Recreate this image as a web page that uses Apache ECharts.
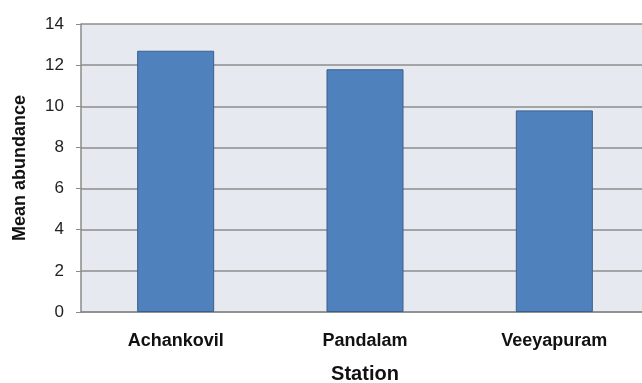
<!DOCTYPE html>
<html>
<head>
<meta charset="UTF-8">
<title>Mean abundance by station</title>
<script src="https://cdn.jsdelivr.net/npm/echarts@6/dist/echarts.min.js"></script>
<style>
  html, body { margin: 0; padding: 0; background: #fff; overflow: hidden; }
  #main { width: 642px; height: 383px; }
</style>
</head>
<body>
<div id="main"></div>
<script type="text/javascript">
// data
var stations = ['Achankovil', 'Pandalam', 'Veeyapuram'];
var meanAbundance = [12.7, 11.8, 9.8];

var myChart = echarts.init(document.getElementById('main'));

myChart.setOption({
    animation: false,
    textStyle: { fontFamily: 'Arial, "Liberation Sans", sans-serif' },
    grid: {
        left: 81,
        right: -7,          // plot area runs a little past the right edge
        top: 24,
        bottom: 71,
        outerBoundsMode: 'none',
        containLabel: false,
        show: true,
        backgroundColor: '#e7e9f1',
        borderWidth: 0
    },
    xAxis: {
        type: 'category',
        data: stations,
        name: 'Station',
        nameLocation: 'middle',
        nameGap: 52,
        nameTextStyle: { fontSize: 20, fontWeight: 'bold', color: '#111' },
        axisLine: { lineStyle: { color: '#8a8a8a', width: 1.5 } },
        axisTick: { show: false },
        axisLabel: { fontSize: 18, fontWeight: 'bold', color: '#111', margin: 20 }
    },
    yAxis: {
        type: 'value',
        min: 0,
        max: 14,
        interval: 2,
        name: 'Mean abundance',
        nameLocation: 'middle',
        nameGap: 52,
        nameTextStyle: { fontSize: 18, fontWeight: 'bold', color: '#111' },
        axisLine: { show: true, lineStyle: { color: '#8a8a8a', width: 1.5 } },
        axisTick: { show: true, length: 5, lineStyle: { color: '#8a8a8a' } },
        axisLabel: { fontSize: 17, color: '#222', margin: 17 },
        splitLine: { lineStyle: { color: '#8c8c8c', width: 1.5 } }
    },
    series: [{
        type: 'bar',
        data: meanAbundance,
        barWidth: 77,
        itemStyle: { color: '#4f81bd', borderColor: '#3a5f8d', borderWidth: 1 }
    }]
});
</script>
</body>
</html>
